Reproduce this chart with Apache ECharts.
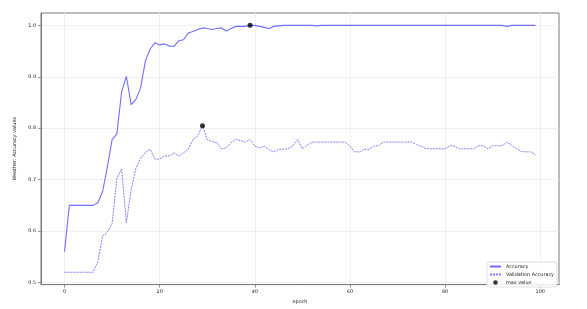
<!DOCTYPE html>
<html>
<head>
<meta charset="utf-8">
<script src="https://cdn.jsdelivr.net/npm/echarts@6/dist/echarts.min.js"></script>
<style>
html,body{margin:0;padding:0;background:#fff;}
#chart{width:587px;height:309px;}
</style>
</head>
<body>
<div id="chart"></div>
<script>
// epochs 0..99
const epochs = Array.from({length: 100}, (_, i) => i);

const accuracy = [
  0.560, 0.650, 0.650, 0.650, 0.650, 0.650, 0.650, 0.655, 0.677, 0.725,
  0.778, 0.789, 0.871, 0.901, 0.846, 0.856, 0.879, 0.931, 0.954, 0.966,
  0.962, 0.964, 0.960, 0.959, 0.970, 0.972, 0.985, 0.988, 0.992, 0.995,
  0.994, 0.992, 0.994, 0.995, 0.989, 0.994, 0.998, 0.998, 0.998, 1.000,
  1.000, 0.998, 0.996, 0.994, 0.998, 0.999, 1.000, 1.000, 1.000, 1.000,
  1.000, 1.000, 1.000, 0.999, 1.000, 1.000, 1.000, 1.000, 1.000, 1.000,
  1.000, 1.000, 1.000, 1.000, 1.000, 1.000, 1.000, 1.000, 1.000, 1.000,
  1.000, 1.000, 1.000, 1.000, 1.000, 1.000, 1.000, 1.000, 1.000, 1.000,
  1.000, 1.000, 1.000, 1.000, 1.000, 1.000, 1.000, 1.000, 1.000, 1.000,
  1.000, 1.000, 1.000, 0.998, 1.000, 1.000, 1.000, 1.000, 1.000, 1.000
];

const valAccuracy = [
  0.520, 0.520, 0.520, 0.520, 0.520, 0.520, 0.520, 0.540, 0.590, 0.598,
  0.615, 0.702, 0.721, 0.616, 0.680, 0.722, 0.742, 0.753, 0.759, 0.740,
  0.740, 0.746, 0.746, 0.752, 0.746, 0.752, 0.759, 0.778, 0.785, 0.805,
  0.778, 0.774, 0.772, 0.760, 0.762, 0.772, 0.778, 0.776, 0.773, 0.778,
  0.765, 0.762, 0.765, 0.758, 0.754, 0.759, 0.759, 0.760, 0.766, 0.778,
  0.760, 0.767, 0.773, 0.773, 0.773, 0.773, 0.773, 0.773, 0.773, 0.773,
  0.765, 0.754, 0.754, 0.759, 0.759, 0.765, 0.766, 0.773, 0.773, 0.773,
  0.773, 0.773, 0.773, 0.773, 0.768, 0.765, 0.760, 0.760, 0.760, 0.760,
  0.760, 0.766, 0.765, 0.760, 0.760, 0.760, 0.760, 0.766, 0.766, 0.760,
  0.766, 0.766, 0.766, 0.773, 0.767, 0.760, 0.755, 0.754, 0.754, 0.748
];

const xTicks = [0, 20, 40, 60, 80, 100];
const yTicks = [0.5, 0.6, 0.7, 0.8, 0.9, 1.0];

const seriesNames = ['Accuracy', 'Validation Accuracy', 'max value'];
const xName = 'epoch';
const yName = 'Weather: Accuracy values';

function argmax(arr) {
  let bi = 0;
  for (let i = 1; i < arr.length; i++) if (arr[i] > arr[bi]) bi = i;
  return bi;
}
const ia = argmax(accuracy), iv = argmax(valAccuracy);
const maxPoints = [[epochs[ia], accuracy[ia]], [epochs[iv], valAccuracy[iv]]];

const FONT = 'DejaVu Sans';
const FS = 4.9;
const TXT = '#222';
const SPINE = '#7a7a7a';
const GRIDC = '#ececec';

const chart = echarts.init(document.getElementById('chart'), null, {renderer: 'canvas'});
chart.setOption({
  animation: false,
  backgroundColor: '#fff',
  grid: {
    left: 41, right: 28, top: 13, bottom: 19,
    show: true, borderColor: SPINE, borderWidth: 1, backgroundColor: 'transparent'
  },
  xAxis: {
    type: 'value',
    min: -4.95, max: 103.95,
    splitNumber: 5,
    name: xName, nameLocation: 'middle', nameGap: 12.5,
    nameTextStyle: {fontFamily: FONT, fontSize: FS, color: TXT},
    axisLine: {show: true, onZero: false, lineStyle: {color: SPINE, width: 1}},
    axisTick: {show: true, length: 3, customValues: xTicks, lineStyle: {color: SPINE, width: 0.8}},
    axisLabel: {
      customValues: xTicks,
      margin: 4.5, fontFamily: FONT, fontSize: FS, color: TXT,
      formatter: v => String(Math.round(v))
    },
    splitLine: {show: true, lineStyle: {color: GRIDC, width: 0.8}}
  },
  yAxis: {
    type: 'value',
    min: 0.496, max: 1.024,
    splitNumber: 5,
    name: yName, nameLocation: 'middle', nameGap: 16, nameRotate: 90,
    nameTextStyle: {fontFamily: FONT, fontSize: FS, color: TXT},
    axisLine: {show: true, onZero: false, lineStyle: {color: SPINE, width: 1}},
    axisTick: {show: true, length: 3, customValues: yTicks, lineStyle: {color: SPINE, width: 0.8}},
    axisLabel: {
      customValues: yTicks,
      margin: 5, fontFamily: FONT, fontSize: FS, color: TXT,
      formatter: v => v.toFixed(1)
    },
    splitLine: {show: true, lineStyle: {color: GRIDC, width: 0.8}}
  },
  legend: {
    orient: 'vertical',
    right: 30, bottom: 22,
    data: [
      {name: seriesNames[0], itemStyle: {opacity: 0}},
      {name: seriesNames[1], itemStyle: {opacity: 0}},
      {name: seriesNames[2], icon: 'circle', itemStyle: {color: '#000'}}
    ],
    itemWidth: 11, itemHeight: 4.5, itemGap: 3,
    padding: [2, 3, 2, 2],
    backgroundColor: 'rgba(255,255,255,0.85)',
    borderColor: '#d8d8d8', borderWidth: 0.8, borderRadius: 2,
    textStyle: {fontFamily: FONT, fontSize: FS, color: TXT}
  },
  series: [
    {
      name: seriesNames[0], type: 'line',
      data: epochs.map((e, i) => [e, accuracy[i]]),
      showSymbol: false, symbol: 'none',
      lineStyle: {color: '#6f6fff', width: 1.1},
      itemStyle: {color: '#6f6fff'},
      z: 2
    },
    {
      name: seriesNames[1], type: 'line',
      data: epochs.map((e, i) => [e, valAccuracy[i]]),
      showSymbol: false, symbol: 'none',
      lineStyle: {color: '#8080ff', width: 1, type: [2, 1]},
      itemStyle: {color: '#8080ff'},
      z: 2
    },
    {
      name: seriesNames[2], type: 'scatter',
      data: maxPoints,
      symbol: 'circle', symbolSize: 5,
      itemStyle: {color: '#000'},
      z: 5
    }
  ]
});
</script>
</body>
</html>
